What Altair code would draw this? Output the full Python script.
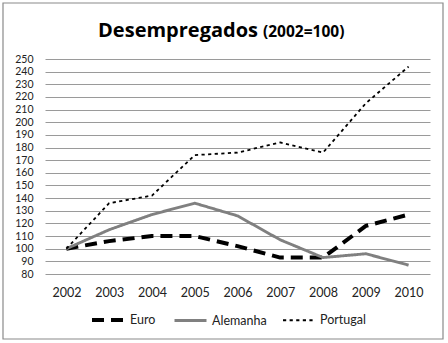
import altair as alt
import pandas as pd

years = ["2002", "2003", "2004", "2005", "2006", "2007", "2008", "2009", "2010"]
euro = [100, 106, 110, 110, 102, 93, 93, 118, 127]
alemanha = [100, 115, 127, 136, 126, 107, 93, 96, 87]
portugal = [100, 136, 142, 174, 176, 184, 176, 215, 244]
series = ["Euro", "Alemanha", "Portugal"]

rows = []
for name, vals in zip(series, [euro, alemanha, portugal]):
    for y, v in zip(years, vals):
        rows.append({"Ano": y, "Valor": v, "Serie": name})
df = pd.DataFrame(rows)

FONT = "Lato"
TFONT = "Open Sans"

lines = alt.Chart(df).mark_line(strokeJoin="round").encode(
    x=alt.X("Ano:O", sort=years, title=None,
            axis=alt.Axis(labelAngle=0, labelPadding=12, ticks=False, domain=False,
                          grid=False, labelFontSize=12.5, labelColor="#222", labelFont=FONT)),
    y=alt.Y("Valor:Q", title=None,
            scale=alt.Scale(domain=[80, 250], nice=False, zero=False),
            axis=alt.Axis(values=list(range(80, 251, 10)), ticks=False, domain=False,
                          gridColor="#9a9a9a", gridWidth=1, labelPadding=12,
                          labelFontSize=10.5, labelColor="#222", labelFont=FONT)),
    color=alt.Color("Serie:N", sort=series,
                    scale=alt.Scale(domain=series, range=["#000000", "#808080", "#000000"]),
                    legend=alt.Legend(orient="none", legendX=45, legendY=243,
                                      direction="horizontal", title=None,
                                      symbolType="stroke", symbolSize=1024,
                                      labelFontSize=12.5, labelFont=FONT, labelColor="#222",
                                      labelOffset=4, columnPadding=12, symbolOffset=0)),
    strokeDash=alt.StrokeDash("Serie:N", sort=series,
                              scale=alt.Scale(domain=series, range=[[12, 7], [1, 0], [3.2, 3.4]]),
                              legend=None),
    strokeWidth=alt.StrokeWidth("Serie:N", sort=series,
                                scale=alt.Scale(domain=series, range=[4, 1.8, 3.8]),
                                legend=None),
)

title_df = pd.DataFrame({"a": ["Desempregados"], "b": ["(2002=100)"]})
t1 = alt.Chart(title_df).mark_text(align="right", baseline="alphabetic", font=TFONT,
                                   fontSize=20, fontWeight="bold", color="#000").encode(
    x=alt.value(213), y=alt.value(-22), text="a:N")
t2 = alt.Chart(title_df).mark_text(align="left", baseline="alphabetic", font=TFONT,
                                   fontSize=15.5, fontWeight="bold", color="#000").encode(
    x=alt.value(218), y=alt.value(-22), text="b:N")
border = alt.Chart(title_df).mark_rect(fill=None, stroke="#8a8a8a", strokeWidth=1.2).encode(
    x=alt.value(-42), x2=alt.value(398), y=alt.value(-56), y2=alt.value(280))

chart = alt.layer(border, lines, t1, t2).properties(
    width=385, height=215,
    padding={"left": 45, "top": 59, "right": 18, "bottom": 69},
    autosize=alt.AutoSizeParams(type="none"),
).configure_view(stroke=None)

chart.save("out.html", embed_options={"renderer": "svg", "actions": False})
